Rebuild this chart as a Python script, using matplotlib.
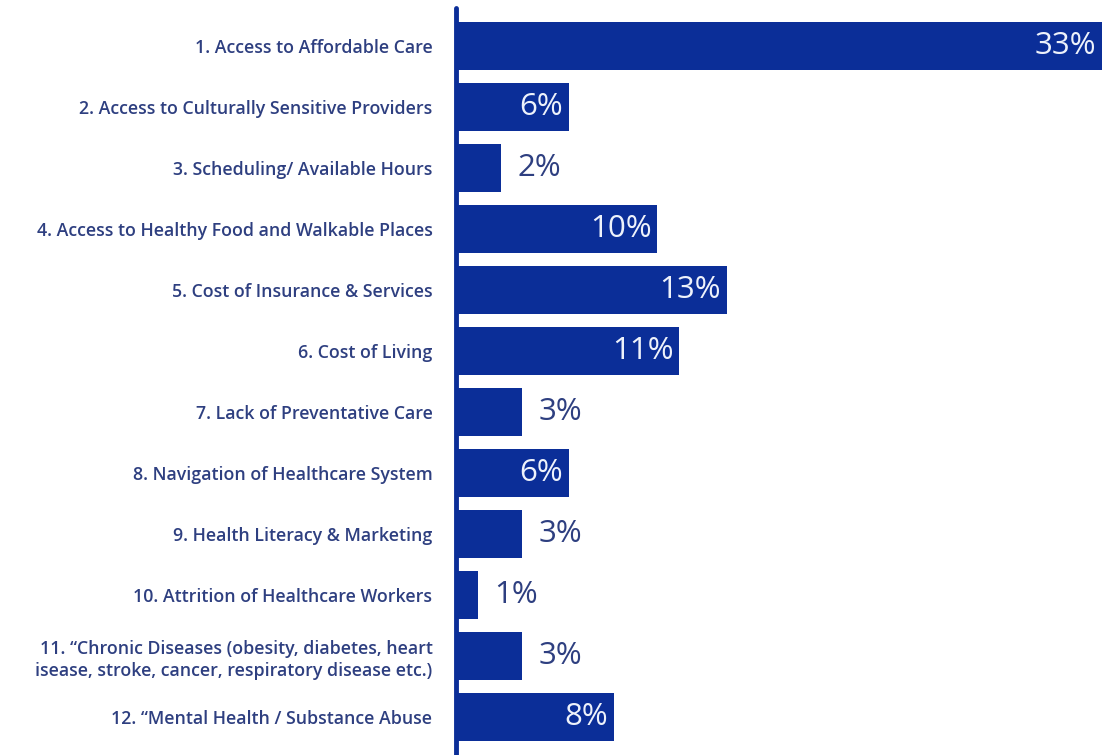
import matplotlib.pyplot as plt

# Data (bar lengths, labels as printed)
categories = [
    "1. Access to Affordable Care",
    "2. Access to Culturally Sensitive Providers",
    "3. Scheduling/ Available Hours",
    "4. Access to Healthy Food and Walkable Places",
    "5. Cost of Insurance & Services",
    "6. Cost of Living",
    "7. Lack of Preventative Care",
    "8. Navigation of Healthcare System",
    "9. Health Literacy & Marketing",
    "10. Attrition of Healthcare Workers",
    "11. \u201cChronic Diseases (obesity, diabetes, heart\nisease, stroke, cancer, respiratory disease etc.)",
    "12. \u201cMental Health / Substance Abuse",
]
shares = [33.0, 5.5, 2.2, 9.8, 13.2, 10.9, 3.2, 5.5, 3.2, 1.05, 3.2, 7.7]
labels = ["33%", "6%", "2%", "10%", "13%", "11%", "3%", "6%", "3%", "1%", "3%", "8%"]
inside = [True, True, False, True, True, True, False, True, False, False, False, True]

bar_color = "#0b2e98"
label_color = "#2e3f80"

plt.rcParams['font.family'] = ['Open Sans', 'DejaVu Sans']

fig = plt.figure(figsize=(11.02, 7.55), dpi=100)
ax = fig.add_axes([456 / 1102, 0.0, 1 - 456 / 1102, 1 - 8 / 755])

ypos = list(range(len(categories)))
ax.barh(ypos, shares, height=0.79, color=bar_color)

xmax = 646 / 20.5
ax.set_xlim(0, xmax)
ax.set_ylim(11.62, -0.62)

for y, v, lab, ins in zip(ypos, shares, labels, inside):
    end = min(v, xmax)
    if ins:
        ax.annotate(lab, (end, y), xytext=(-4, 0), textcoords="offset points",
                    ha="right", va="center", fontsize=22.5, color="#eef2fb")
    else:
        ax.annotate(lab, (end, y), xytext=(12, 0), textcoords="offset points",
                    ha="left", va="center", fontsize=22.5, color=label_color)

ax.set_yticks(ypos)
ax.set_yticklabels(categories, fontsize=12.8, fontweight="semibold",
                   color=label_color, linespacing=1.25)
ax.tick_params(axis="y", length=0, pad=17)
ax.set_xticks([])

for side in ["top", "right", "bottom"]:
    ax.spines[side].set_visible(False)
ax.spines["left"].set_linewidth(3.5)
ax.spines["left"].set_color(bar_color)
ax.spines["left"].set_capstyle("round")

fig.savefig("out.png", dpi=100)
